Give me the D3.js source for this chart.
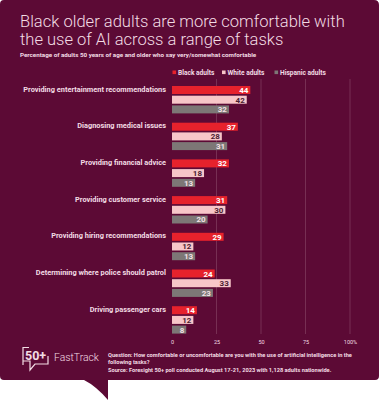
<!DOCTYPE html>
<html>
<head>
<meta charset="utf-8">
<script src="https://cdn.jsdelivr.net/npm/d3@7"></script>
<style>
  html, body { margin: 0; padding: 0; background: #ffffff; }
  svg { display: block; font-family: Roboto, "Noto Sans", sans-serif; }
</style>
</head>
<body>
<div id="chart"></div>
<script>
"use strict";

// Data
const categories = [
  "Providing entertainment recommendations",
  "Diagnosing medical issues",
  "Providing financial advice",
  "Providing customer service",
  "Providing hiring recommendations",
  "Determining where police should patrol",
  "Driving passenger cars"
];
const seriesNames = ["Black adults", "White adults", "Hispanic adults"];
const blackValues = [44, 37, 32, 31, 29, 24, 14];
const whiteValues = [42, 28, 18, 30, 12, 33, 12];
const hispanicValues = [32, 31, 13, 20, 13, 23, 8];
const tickValues = [0, 25, 50, 75, 100];

const seriesColors = ["#e6222c", "#f7c6c8", "#7d7776"];
const valueColors = ["#ffffff", "#4a2030", "#f4e1e6"];

const rows = categories.map((c, i) => ({
  category: c,
  values: [blackValues[i], whiteValues[i], hispanicValues[i]]
}));

const W = 379, H = 400;
const bg = "#5c0a35";
const textLight = "#f3dce4";

const svg = d3.select("#chart").append("svg")
  .attr("width", W)
  .attr("height", H);

// shrink/grow a text's font so it spans the given width
function fitWidth(sel, target) {
  const node = sel.node();
  const size = parseFloat(sel.attr("font-size"));
  const w = node.getComputedTextLength();
  if (w > 0) sel.attr("font-size", (size * target / w).toFixed(2));
}

// Card with speech bubble tail
svg.append("path")
  .attr("d", "M4,0 H374 Q379,0 379,5 V376 Q379,380 375,380 H108 V400 Q96,386 84,380 H4 Q0,380 0,376 V4 Q0,0 4,0 Z")
  .attr("fill", bg);

// Title
const title1 = svg.append("text")
  .attr("x", 20).attr("y", 27)
  .attr("fill", textLight)
  .attr("font-size", 16.5)
  .attr("font-weight", 300)
  .text("Black older adults are more comfortable with");
fitWidth(title1, 325);
svg.append("text")
  .attr("x", 20).attr("y", 44.5)
  .attr("fill", textLight)
  .attr("font-size", title1.attr("font-size"))
  .attr("font-weight", 300)
  .text("the use of AI across a range of tasks");

const sub = svg.append("text")
  .attr("x", 20)
  .attr("y", 57)
  .attr("fill", textLight)
  .attr("font-size", 6.3)
  .attr("font-weight", 700)
  .text("Percentage of adults 50 years of age and older who say very/somewhat comfortable");
fitWidth(sub, 236);

// Scales
const x = d3.scaleLinear().domain([0, 100]).range([172, 350]);
const y0 = d3.scaleBand().domain(categories).range([86, 86 + 36.7 * categories.length]);
const y1 = d3.scaleBand().domain(seriesNames).range([0, 27.4]).paddingInner(0.175);

// Grid lines
svg.append("g")
  .selectAll("line")
  .data(tickValues.filter(d => d > 0))
  .join("line")
  .attr("x1", d => x(d)).attr("x2", d => x(d))
  .attr("y1", 79).attr("y2", 334)
  .attr("stroke", "#8a4868")
  .attr("stroke-width", 0.6);

// Axis tick labels
const axis = d3.axisBottom(x)
  .tickValues(tickValues)
  .tickSize(0)
  .tickFormat(d => d === 100 ? "100%" : d);
const axisG = svg.append("g")
  .attr("transform", "translate(0,337)")
  .call(axis);
axisG.select(".domain").remove();
axisG.selectAll("text")
  .attr("fill", textLight)
  .attr("font-size", 5.5)
  .attr("font-family", "Roboto, sans-serif");

// Legend
const legendX = [172.5, 222, 274.5];
const legend = svg.append("g");
seriesNames.forEach((s, i) => {
  legend.append("rect")
    .attr("x", legendX[i]).attr("y", 70.5)
    .attr("width", 3.6).attr("height", 3.6)
    .attr("fill", seriesColors[i]);
  legend.append("text")
    .attr("x", legendX[i] + 5.5).attr("y", 75)
    .attr("fill", textLight)
    .attr("font-size", 6.6)
    .attr("font-weight", 700)
    .text(s);
});

// Category groups
const groups = svg.append("g")
  .selectAll("g")
  .data(rows)
  .join("g")
  .attr("transform", d => `translate(0,${y0(d.category)})`);

groups.append("text")
  .attr("x", 166)
  .attr("y", 5.5)
  .attr("text-anchor", "end")
  .attr("fill", textLight)
  .attr("font-size", 7.4)
  .attr("font-weight", 700)
  .text(d => d.category);

groups.selectAll("rect")
  .data(d => d.values.map((v, i) => ({ v, i })))
  .join("rect")
  .attr("x", x(0))
  .attr("y", d => y1(seriesNames[d.i]))
  .attr("width", d => x(d.v) - x(0))
  .attr("height", y1.bandwidth())
  .attr("fill", d => seriesColors[d.i]);

groups.selectAll("text.val")
  .data(d => d.values.map((v, i) => ({ v, i })))
  .join("text")
  .attr("class", "val")
  .attr("x", d => x(d.v) - 2)
  .attr("y", d => y1(seriesNames[d.i]) + y1.bandwidth() / 2 + 3)
  .attr("text-anchor", "end")
  .attr("fill", d => valueColors[d.i])
  .attr("font-size", 8)
  .attr("font-weight", 700)
  .text(d => d.v);

// Footer logo
const logo = svg.append("g");
logo.append("path")
  .attr("d", "M29,347.5 H23 V365 M23,361 H30 V370 L35,364 H48 V356")
  .attr("fill", "none")
  .attr("stroke", textLight)
  .attr("stroke-width", 1.2);
logo.append("text")
  .attr("x", 25).attr("y", 360)
  .attr("fill", textLight)
  .attr("font-size", 12.5)
  .attr("font-weight", 700)
  .text("50+");
const brand = logo.append("text")
  .attr("x", 54).attr("y", 360.5)
  .attr("fill", textLight)
  .attr("font-size", 11)
  .attr("font-weight", 300)
  .text("FastTrack");
fitWidth(brand, 45);

// Footer notes
const notes = [
  { t: "Question: How comfortable or uncomfortable are you with the use of artificial intelligence in the", y: 356.5 },
  { t: "following tasks?", y: 363.5 },
  { t: "Source: Foresight 50+ poll conducted August 17-21, 2023 with 1,128 adults nationwide.", y: 371.5 }
];
const noteText = svg.append("g")
  .selectAll("text")
  .data(notes)
  .join("text")
  .attr("x", 108)
  .attr("y", d => d.y)
  .attr("fill", textLight)
  .attr("font-size", 5.6)
  .attr("font-weight", 700)
  .text(d => d.t);
fitWidth(noteText.filter((d, i) => i === 0), 244);
noteText.attr("font-size", noteText.filter((d, i) => i === 0).attr("font-size"));
</script>
</body>
</html>
